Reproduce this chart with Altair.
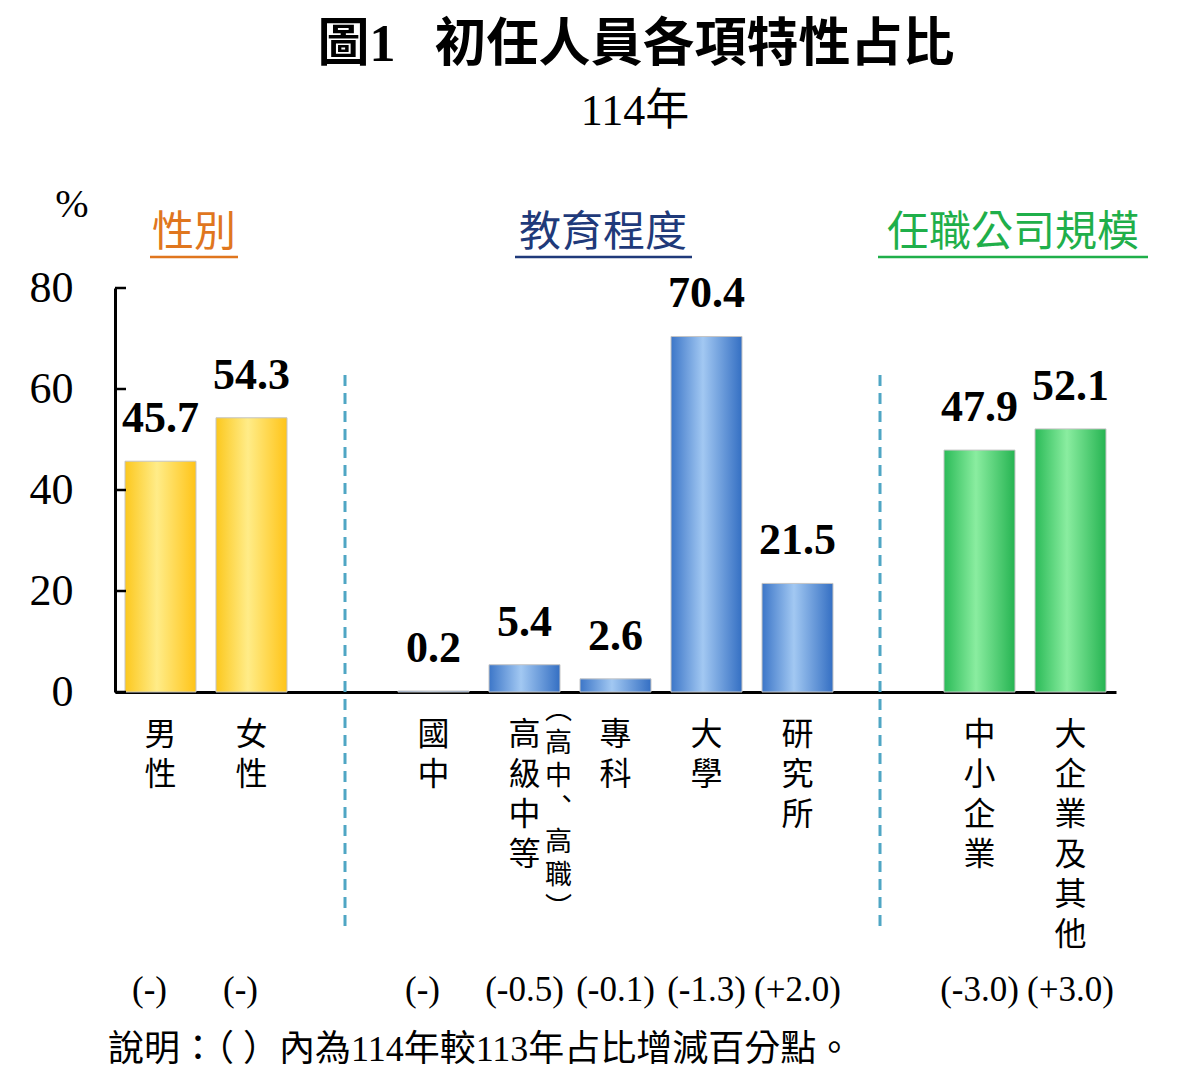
import altair as alt
import pandas as pd

# ---------------- data ----------------
categories = ["男性", "女性", "國中", "高級中等", "專科", "大學", "研究所", "中小企業", "大企業及其他"]
groups = ["性別", "性別", "教育程度", "教育程度", "教育程度", "教育程度", "教育程度", "任職公司規模", "任職公司規模"]
values = [45.7, 54.3, 0.2, 5.4, 2.6, 70.4, 21.5, 47.9, 52.1]
changes = ["(-)", "(-)", "(-)", "(-0.5)", "(-0.1)", "(-1.3)", "(+2.0)", "(-3.0)", "(+3.0)"]
edu_note = "（高中、高職）"
y_ticks = [0, 20, 40, 60, 80]
headers = ["性別", "教育程度", "任職公司規模"]
title_text = "圖1\u00a0\u00a0\u00a0初任人員各項特性占比"
subtitle_text = "114年"
unit_text = "%"
footnote_text = "說明：（\u00a0）內為114年較113年占比增減百分點。"

# ---------------- layout / style ----------------
SERIF = "Liberation Serif"
CJK = "Noto Sans CJK TC"
MIXED = "Liberation Serif, Noto Sans CJK TC"
W, H = 1001, 404
domain_order = ["男性", "女性", "_s1", "國中", "高級中等", "專科", "大學", "研究所", "_s2", "中小企業", "大企業及其他"]
# pixel offset of each separator from the start of its spacer band
separator_shift = {"_s1": 38, "_s2": 27}

def vertical(s):
    s = s.replace("（", "︵").replace("）", "︶").replace("、", "︑")
    return "\n".join(list(s))

df = pd.DataFrame({
    "cat": categories,
    "grp": groups,
    "value": values,
    "change": changes,
    "lbl": [vertical(c) for c in categories],
})

def grad(edge_l, mid, edge_r):
    return alt.Gradient(
        gradient="linear",
        stops=[
            alt.GradientStop(color=edge_l, offset=0),
            alt.GradientStop(color=mid, offset=0.45),
            alt.GradientStop(color=edge_r, offset=1),
        ],
        x1=0, x2=1, y1=0, y2=0,
    )

group_fill = {
    "性別": grad("#FCC81E", "#FFEC88", "#FFC418"),
    "教育程度": grad("#3C76C8", "#A2C8F2", "#346FC3"),
    "任職公司規模": grad("#2BBB58", "#8AEDA0", "#26B452"),
}
header_style = {
    "性別": ("#E0761E", 79, 35, 123),
    "教育程度": ("#1F3A7A", 488, 400, 577),
    "任職公司規模": ("#1FAF4A", 898, 763, 1033),
}

xscale = alt.Scale(domain=domain_order, paddingInner=0.22, paddingOuter=0.11)
X = alt.X("cat:N", scale=xscale, title=None,
          axis=alt.Axis(labels=False, ticks=False, title=None, grid=False,
                        domainColor="black", domainWidth=3))
Y = alt.Y("value:Q", scale=alt.Scale(domain=[0, 80], nice=False), title=None,
          axis=alt.Axis(values=y_ticks, ticks=False, tickSize=0, labelPadding=42,
                        labelFont=SERIF, labelFontSize=44, labelColor="black",
                        domainColor="black", domainWidth=3, grid=False, title=None))

layers = []

# dashed separators
for s, shift in separator_shift.items():
    layers.append(
        alt.Chart(pd.DataFrame({"cat": [s]})).mark_rule(
            color="#4FA6C4", strokeWidth=3, strokeDash=[11, 7]
        ).encode(x=X, xOffset=alt.value(shift), y=alt.value(87), y2=alt.value(642))
    )

# bars
for g, fill in group_fill.items():
    layers.append(
        alt.Chart(df).transform_filter(alt.datum.grp == g).mark_bar(
            color=fill, stroke="#C4C4C4", strokeWidth=1
        ).encode(x=X, y=Y)
    )

# inward y ticks
layers.append(
    alt.Chart(pd.DataFrame({"value": y_ticks})).mark_rule(color="black", strokeWidth=2.5)
    .encode(y=Y, x=alt.value(0), x2=alt.value(11))
)

# value labels
layers.append(
    alt.Chart(df).mark_text(font=SERIF, fontSize=44, fontWeight="bold",
                            baseline="alphabetic", dy=-29, color="black")
    .encode(x=X, y=Y, text=alt.Text("value:Q", format=".1f"))
)

# category labels (vertical)
layers.append(
    alt.Chart(df).mark_text(font=MIXED, fontSize=32, baseline="top", lineBreak="\n",
                            lineHeight=40, color="black")
    .encode(x=X, y=alt.value(H + 28), text="lbl:N")
)
layers.append(
    alt.Chart(pd.DataFrame({"cat": ["高級中等"], "note": [vertical(edu_note)]}))
    .mark_text(font=MIXED, fontSize=27, baseline="top", lineBreak="\n",
               lineHeight=33, dx=34, color="black")
    .encode(x=X, y=alt.value(H + 6), text="note:N")
)

# change labels
layers.append(
    alt.Chart(df).transform_filter(alt.datum.change != "(-)")
    .mark_text(font=SERIF, fontSize=35, baseline="middle", color="black")
    .encode(x=X, y=alt.value(H + 298), text="change:N")
)
layers.append(
    alt.Chart(df).transform_filter(alt.datum.change == "(-)")
    .mark_text(font=SERIF, fontSize=35, baseline="middle", color="black", dx=-11)
    .encode(x=X, y=alt.value(H + 298), text="change:N")
)

# headers with underline
for h in headers:
    col, cx, x0, x1 = header_style[h]
    layers.append(
        alt.Chart(pd.DataFrame({"t": [h]})).mark_text(
            font=CJK, fontSize=42, baseline="middle", align="center", color=col
        ).encode(x=alt.value(cx), y=alt.value(-55), text="t:N")
    )
    layers.append(
        alt.Chart(pd.DataFrame({"t": [h]})).mark_rule(color=col, strokeWidth=2.5)
        .encode(x=alt.value(x0), x2=alt.value(x1), y=alt.value(-31))
    )

# title, subtitle, unit, footnote
layers.append(
    alt.Chart(pd.DataFrame({"t": [title_text]})).mark_text(
        font=MIXED, fontSize=52, fontWeight="bold", baseline="middle", align="center", color="black"
    ).encode(x=alt.value(521), y=alt.value(-243), text="t:N")
)
layers.append(
    alt.Chart(pd.DataFrame({"t": [subtitle_text]})).mark_text(
        font=MIXED, fontSize=44, baseline="middle", align="center", color="black"
    ).encode(x=alt.value(520), y=alt.value(-176), text="t:N")
)
layers.append(
    alt.Chart(pd.DataFrame({"t": [unit_text]})).mark_text(
        font=SERIF, fontSize=40, baseline="middle", align="center", color="black"
    ).encode(x=alt.value(-43), y=alt.value(-83), text="t:N")
)
layers.append(
    alt.Chart(pd.DataFrame({"t": [footnote_text]})).mark_text(
        font=MIXED, fontSize=36, baseline="middle", align="left", color="black"
    ).encode(x=alt.value(-7), y=alt.value(762), text="t:N")
)

chart = alt.layer(*layers).properties(
    width=W, height=H,
    autosize=alt.AutoSizeParams(type="none"),
    padding={"left": 107, "top": 280, "right": 60, "bottom": 376},
).configure_view(stroke=None)

chart.save("out.html", embed_options={"renderer": "svg", "actions": False})
